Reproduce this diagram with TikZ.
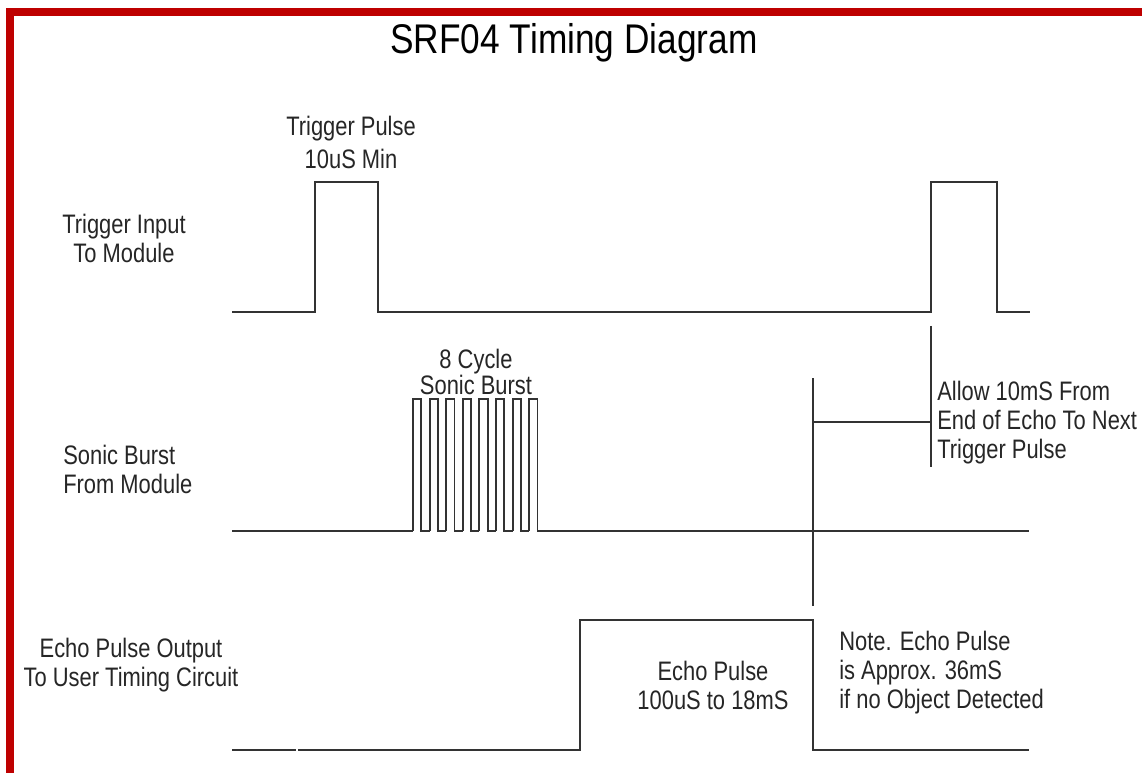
\documentclass[tikz,border=0pt]{standalone}
\usepackage{fontspec}
\usepackage{xcolor}
\usepackage{tikz}
\newfontfamily\narrowsans[FakeStretch=0.82]{Liberation Sans}
\newfontfamily\titlesans[FakeStretch=0.85]{Liberation Sans}
\definecolor{frame}{HTML}{BE0000}
\definecolor{trace}{HTML}{333333}

\begin{document}
\begin{tikzpicture}[
    x=0.025cm, y=-0.025cm,
    wave/.style={draw=trace, line width=1.4pt},
    marker/.style={draw=trace, line width=1.2pt},
    label/.style={inner sep=0pt, align=center, text=black!85, font=\narrowsans\fontsize{19}{20.6}\selectfont},
    note/.style={label, align=left, anchor=west},
    heading/.style={inner sep=0pt, font=\titlesans\fontsize{29.5}{32}\selectfont}
]
\useasboundingbox (0,0) rectangle (1142,773);
\fill[white] (0,0) rectangle (1142,773);
% red frame, cut at right and bottom
\fill[frame] (6,8) rectangle (1142,16);
\fill[frame] (6,8) rectangle (14,773);

\node[heading] (title) at (574,43) {SRF04 Timing Diagram};

% signal names
\node[label] (trigname) at (124,238) {Trigger Input\\To Module};
\node[note] (sonicname) at (63,469) {Sonic Burst\\From Module};
\node[label] (echoname) at (131,665) {Echo Pulse Output\\To User Timing Circuit};

% trigger input
\draw[wave] (232,312) -- (315,312) -- (315,182) -- (378,182) -- (378,312)
    -- (931,312) -- (931,182) -- (997,182) -- (997,312) -- (1030,312);
\node[label, font=\narrowsans\fontsize{19}{23.5}\selectfont] (trigpulse) at (351,142) {Trigger Pulse\\10uS Min};

% sonic burst
\draw[wave] (232,531) -- (413,531);
\foreach \k in {0,...,7}
    \draw[wave] ({413+16.6*\k},531) -- ({413+16.6*\k},399) -- ({421.3+16.6*\k},399)
        -- ({421.3+16.6*\k},531) -- ({429.6+16.6*\k},531);
\draw[wave] (537.5,531) -- (1029,531);
\node[label, font=\narrowsans\fontsize{19}{18.5}\selectfont] (burst) at (476,372) {8 Cycle\\Sonic Burst};

% echo output
\draw[wave] (232,750) -- (296,750);
\draw[wave] (298,750) -- (580,750) -- (580,620) -- (813,620) -- (813,750) -- (1029,750);
\node[label] (echopulse) at (713,685) {Echo Pulse\\100uS to 18mS};

% 10mS gap markers
\coordinate (echoend) at (813,422);
\coordinate (nexttrig) at (931,422);
\draw[marker] (813,378) -- (813,606);
\draw[marker] (931,326) -- (931,467);
\draw[marker] (echoend) -- (nexttrig);
\node[note] (allow) at (937,423) {Allow 10mS From\\End of Echo To Next\\Trigger Pulse};
\node[note] (timeout) at (839,673) {Note. Echo Pulse\\is Approx. 36mS\\if no Object Detected};
\end{tikzpicture}
\end{document}
